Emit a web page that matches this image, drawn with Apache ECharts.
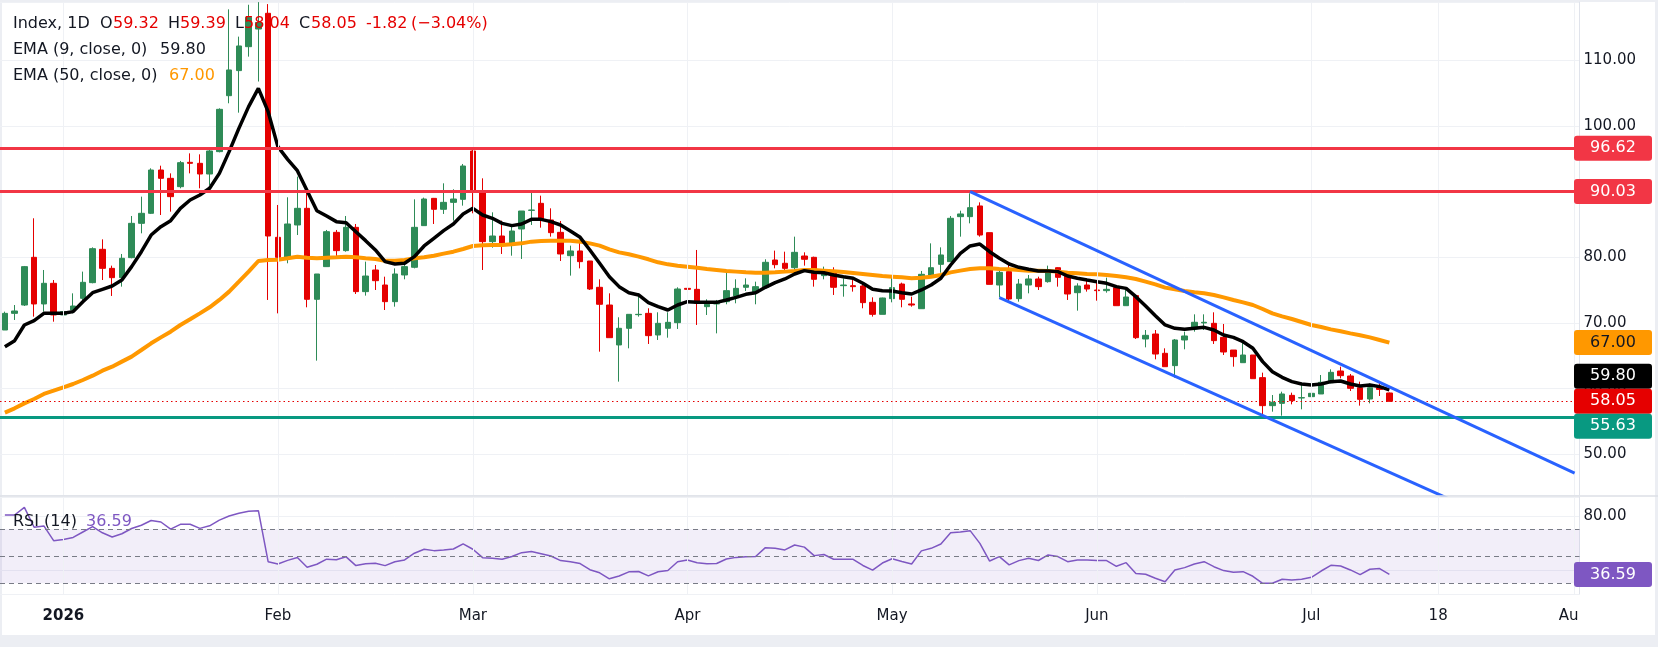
<!DOCTYPE html>
<html>
<head>
<meta charset="utf-8">
<title>Index, 1D</title>
<script src="https://cdn.jsdelivr.net/npm/echarts@6/dist/echarts.min.js"></script>
<style>
  html, body { margin: 0; padding: 0; background: #eceef3; }
  #frame { position: absolute; left: 2px; top: 2px; width: 1653px; height: 633px; background: #ffffff; }
  #chart { position: absolute; left: 0; top: 0; width: 1658px; height: 647px; }
</style>
</head>
<body>
<div id="frame"></div>
<div id="chart"></div>
<script>
// daily bars, weekdays only (Dec 25 and Good Friday closed); future part of the axis is calendar days
const FIRST_DAY = '2025-12-23';
const LAST_BAR_DAY = '2026-07-13';
const LAST_AXIS_DAY = '2026-08-01';
const HOLIDAYS = ['2025-12-25', '2026-04-03'];

const tickDates  = ['2026-01-01', '2026-02-02', '2026-03-02', '2026-04-01', '2026-05-01', '2026-06-01', '2026-07-01', '2026-07-18', '2026-08-01'];
const tickLabels = ['2026', 'Feb', 'Mar', 'Apr', 'May', 'Jun', 'Jul', '18', 'Au'];

const open = [68.92,71.46,72.73,80.00,72.89,76.04,71.21,71.97,73.75,76.14,
  81.22,78.32,76.90,79.95,85.18,86.71,93.31,92.04,90.77,94.48,
  94.33,92.70,96.11,104.64,108.46,112.11,114.80,117.20,83.05,80.00,
  84.93,87.47,73.60,78.58,83.81,81.02,84.57,74.77,78.07,75.78,
  73.24,77.31,78.48,84.83,88.99,87.32,88.38,88.84,96.21,90.16,
  82.39,83.25,81.88,84.32,87.16,88.23,85.69,83.81,80.25,80.97,
  79.44,75.43,72.73,66.64,69.18,71.26,71.46,68.16,69.18,70.04,
  75.27,75.12,72.48,72.89,73.24,74.11,75.43,74.61,75.43,79.59,
  79.09,78.42,80.20,80.00,77.21,77.92,75.68,75.68,75.63,73.14,
  71.31,73.70,75.93,72.89,72.17,77.31,78.93,79.34,86.20,86.20,
  87.83,83.76,75.78,77.82,73.70,75.78,76.70,76.29,78.42,77.21,
  74.61,75.78,75.02,74.92,75.38,72.63,74.16,67.55,68.31,65.37,
  63.49,67.40,69.08,70.00,69.94,67.80,65.87,63.94,65.11,61.66,
  57.39,57.74,58.96,58.56,58.76,59.17,60.89,62.67,61.91,60.13,
  58.40,60.10,59.32];

const high = [71.72,72.73,78.68,85.95,78.07,76.54,71.80,74.51,77.82,81.52,
  82.74,78.73,80.51,86.30,89.25,93.57,93.97,92.80,94.69,95.85,
  95.70,96.46,102.71,117.80,113.64,118.50,118.90,118.60,87.98,89.15,
  92.30,90.26,77.46,84.17,84.17,86.30,85.08,79.34,78.83,77.05,
  78.32,79.34,88.84,89.10,89.05,91.28,90.37,94.23,96.51,92.04,
  86.86,85.59,85.08,87.06,89.91,89.40,87.47,85.54,81.78,82.64,
  79.44,76.65,74.51,70.86,71.31,74.51,72.23,71.62,71.62,75.43,
  76.14,81.12,73.60,73.50,77.82,76.65,76.80,76.29,79.70,81.02,
  80.86,83.15,80.76,80.10,78.58,78.48,76.80,76.54,76.14,73.90,
  73.85,76.95,76.14,74.00,77.92,82.13,81.52,86.30,87.11,89.76,
  88.38,83.76,78.22,78.93,76.70,77.31,77.05,78.73,78.48,77.56,
  76.04,76.54,76.29,76.90,75.53,75.12,74.16,68.92,68.92,66.13,
  67.55,68.67,71.31,71.31,71.62,69.84,65.87,67.40,65.11,62.42,
  59.01,59.52,59.37,60.54,62.06,62.06,62.93,63.33,62.22,61.05,
  60.79,60.79,59.39];

const low = [68.92,70.45,72.58,70.96,71.72,70.19,71.10,71.46,73.24,76.04,
  76.54,74.11,75.53,79.85,83.66,86.60,86.45,86.96,90.52,92.80,
  90.52,91.03,96.00,103.48,102.05,110.59,106.80,73.50,71.46,79.09,
  83.40,72.38,64.25,78.58,80.10,80.86,74.41,74.16,75.02,71.97,
  72.48,76.65,78.32,84.78,85.08,86.61,85.59,87.88,86.71,78.07,
  81.47,80.51,80.25,79.75,84.93,84.52,83.15,79.44,77.21,78.32,
  75.02,65.62,67.75,61.05,66.13,70.96,66.79,67.40,67.75,69.08,
  73.85,69.69,71.21,68.41,72.84,72.99,74.87,72.84,75.27,78.32,
  77.97,78.07,78.73,75.53,76.65,74.26,74.00,74.77,72.23,70.96,
  71.31,73.14,72.38,72.48,72.17,77.05,77.66,79.34,83.15,85.18,
  83.15,75.88,73.90,73.24,73.24,74.51,75.02,76.14,75.53,73.50,
  71.87,74.77,73.39,74.61,72.63,72.63,67.55,66.28,64.45,63.33,
  61.66,65.98,68.67,68.92,66.79,65.11,63.33,63.94,61.50,55.71,
  56.47,55.86,57.59,56.83,57.34,59.17,60.79,61.55,59.62,57.39,
  57.74,58.86,58.04];

const close = [71.46,71.82,78.58,72.89,76.04,71.21,71.72,72.58,76.19,81.32,
  78.32,76.90,79.85,85.18,86.71,93.31,92.04,89.25,94.43,94.33,
  92.70,96.21,102.56,108.56,112.22,116.59,115.80,83.25,80.00,85.08,
  87.47,73.60,77.46,83.91,81.02,84.57,74.77,77.15,76.44,73.24,
  77.46,78.58,84.57,88.89,87.32,88.38,88.89,93.92,90.01,82.39,
  83.25,81.88,84.01,87.06,87.21,85.79,83.76,80.51,80.97,79.34,
  75.17,72.84,67.75,69.18,71.31,71.31,68.06,69.94,70.09,75.17,
  75.12,72.99,72.84,72.99,74.92,75.27,75.78,75.53,79.24,78.88,
  78.32,80.76,79.70,76.65,77.92,75.43,75.78,75.53,73.09,71.31,
  73.80,75.38,73.60,72.73,77.41,78.42,80.36,85.95,86.61,87.57,
  83.40,75.88,77.71,73.65,75.93,76.70,75.53,78.07,76.95,74.41,
  75.63,75.17,74.92,75.12,72.63,73.95,67.75,68.11,65.26,63.33,
  67.40,68.01,70.10,70.10,67.30,65.57,64.86,65.11,61.50,57.39,
  57.90,59.17,58.15,58.61,59.27,60.95,62.47,61.96,60.03,58.35,
  60.13,59.87,58.05];

const ema9 = [66.38,67.30,69.68,70.35,71.46,71.46,71.46,71.72,73.24,74.61,
  75.12,75.63,76.54,78.58,80.86,83.40,84.67,85.59,87.47,88.74,
  89.50,90.52,92.80,96.11,99.66,102.97,105.76,102.20,96.87,94.94,
  93.21,90.16,87.11,86.30,85.44,85.28,83.91,82.54,81.12,79.34,
  78.98,79.09,80.10,81.73,82.90,84.07,85.08,86.61,87.47,86.45,
  85.95,85.18,84.83,85.08,85.79,85.79,85.44,84.93,84.01,83.05,
  81.12,79.09,77.05,75.53,74.61,74.26,73.09,72.48,71.97,72.73,
  73.24,73.14,73.14,73.14,73.50,73.90,74.36,74.61,75.43,76.14,
  76.70,77.46,77.97,77.71,77.66,77.31,77.05,76.80,76.04,75.12,
  74.92,74.87,74.61,74.41,75.02,75.78,76.80,78.83,80.61,81.73,
  82.03,80.86,79.85,78.98,78.48,78.17,77.92,77.92,77.82,77.15,
  76.80,76.54,76.29,76.04,75.53,75.27,74.00,72.58,71.11,69.69,
  69.18,69.02,69.18,69.33,68.92,68.16,67.80,67.14,66.13,64.10,
  62.57,61.71,61.05,60.69,60.54,60.69,61.05,61.15,60.69,60.39,
  60.54,60.29,59.80];

const ema50 = [56.32,56.98,57.74,58.40,59.17,59.67,60.18,60.69,61.30,61.96,
  62.72,63.33,64.10,64.86,65.87,66.89,67.80,68.67,69.68,70.55,
  71.46,72.38,73.50,74.77,76.29,77.82,79.44,79.59,79.64,79.85,
  80.10,79.95,79.85,79.95,80.00,80.10,80.00,79.85,79.75,79.49,
  79.49,79.59,79.85,80.00,80.25,80.56,80.86,81.27,81.73,81.83,
  81.88,81.88,81.98,82.13,82.39,82.49,82.54,82.54,82.54,82.39,
  82.13,81.78,81.22,80.76,80.46,80.10,79.70,79.24,78.93,78.73,
  78.58,78.42,78.22,78.07,77.92,77.82,77.71,77.66,77.66,77.71,
  77.82,77.92,78.07,78.07,77.97,77.87,77.76,77.61,77.46,77.31,
  77.15,77.05,76.95,76.80,76.90,77.05,77.31,77.71,77.97,78.22,
  78.32,78.32,78.22,78.17,78.07,77.97,77.97,77.92,77.82,77.66,
  77.56,77.46,77.41,77.31,77.15,76.95,76.70,76.29,75.88,75.38,
  75.12,74.87,74.66,74.51,74.26,73.90,73.50,73.14,72.73,72.12,
  71.46,71.00,70.60,70.14,69.68,69.38,69.02,68.72,68.41,68.11,
  67.80,67.40,67.00];

const rsi14 = [80.6,80.6,86.3,71.5,72.5,61.6,62.5,64.0,68.0,72.0,
  67.4,64.3,66.7,70.6,73.0,76.5,75.4,70.1,73.7,73.7,
  70.7,72.6,76.8,79.9,81.9,83.4,83.8,46.0,44.3,47.0,
  49.1,41.9,44.1,47.9,47.4,49.6,43.1,44.4,44.8,43.1,
  46.0,47.3,52.3,55.2,54.2,54.7,55.4,59.2,55.2,49.0,
  48.5,47.8,49.9,52.7,53.5,51.9,50.2,46.8,46.0,44.6,
  40.1,37.8,33.3,35.4,38.5,38.7,35.5,38.6,39.5,46.0,
  47.3,45.2,44.4,44.7,48.0,49.2,49.7,49.8,56.4,55.9,
  54.7,58.4,56.8,50.5,51.3,47.8,47.8,47.8,43.2,39.8,
  45.0,48.2,46.2,44.3,54.0,55.9,59.1,67.5,68.0,69.0,
  59.6,46.5,49.8,43.6,46.8,48.5,46.9,51.0,49.8,46.0,
  47.3,47.3,46.8,46.8,42.6,45.3,37.2,36.7,33.7,31.2,
  39.9,41.6,44.3,46.0,42.3,39.4,38.1,38.6,35.2,30.0,
  30.0,33.0,32.5,33.0,34.4,39.1,43.3,42.8,39.9,36.4,
  40.4,40.9,36.59];

// horizontal levels and the descending channel (date, price)
const resistanceLevels = [96.62, 90.03];
const supportLevels = [55.63];
const channelUpper = [['2026-05-13', 90.00], ['2026-08-01', 47.10]];
const channelLower = [['2026-05-18', 73.85], ['2026-08-01', 34.60]];
const rsiBands = [70, 50, 30];

const FONT = "'DejaVu Sans', sans-serif";
const DARK = '#131722';
const UP = '#2e8b57';
const DOWN = '#e50000';

function isoDay(d) { return d.toISOString().slice(0, 10); }
function buildDates() {
  const out = [];
  const d = new Date(FIRST_DAY + 'T00:00:00Z');
  const end = new Date(LAST_AXIS_DAY + 'T00:00:00Z');
  while (d <= end) {
    const s = isoDay(d);
    const wd = d.getUTCDay();
    if (s > LAST_BAR_DAY || (wd !== 0 && wd !== 6 && HOLIDAYS.indexOf(s) < 0)) out.push(s);
    d.setUTCDate(d.getUTCDate() + 1);
  }
  return out;
}
const dates = buildDates();
const tickMap = {};
tickDates.forEach((d, i) => { tickMap[d] = tickLabels[i]; });
const lastTick = tickDates[tickDates.length - 1];

const candles = open.map((o, i) => [o, close[i], low[i], high[i]]);
const last = close.length - 1;

const vGrid = tickDates.map(d => ({ xAxis: d }));
const gridLineStyle = { color: '#eff1f5', width: 1, type: 'solid' };

const chart = echarts.init(document.getElementById('chart'), null, { renderer: 'canvas' });

function dateLabel(val) {
  if (val === tickDates[0]) return '{y|' + tickMap[val] + '}';
  if (val === lastTick) return '{e|' + tickMap[val] + '}'; // cut off by the price scale
  return tickMap[val];
}

const option = {
  animation: false,
  backgroundColor: 'transparent',
  textStyle: { fontFamily: FONT },
  grid: [
    { left: 0, right: 78.5, top: 2, height: 493, outerBoundsMode: 'none' },
    { left: 0, right: 78.5, top: 497, height: 97, outerBoundsMode: 'none' }
  ],
  xAxis: [
    {
      type: 'category', gridIndex: 0, data: dates, boundaryGap: true,
      axisLine: { show: false }, axisTick: { show: false }, axisLabel: { show: false }, splitLine: { show: false }
    },
    {
      type: 'category', gridIndex: 1, data: dates, boundaryGap: true,
      axisLine: { show: false }, axisTick: { show: false }, splitLine: { show: false },
      axisLabel: {
        show: true,
        interval: (idx, val) => tickMap[val] !== undefined,
        formatter: dateLabel,
        rich: {
          y: { fontWeight: 'bold', fontSize: 15, fontFamily: FONT, color: DARK },
          e: { fontSize: 15, fontFamily: FONT, color: DARK, padding: [0, 12, 0, 0] }
        },
        fontSize: 15, fontFamily: FONT, color: DARK, margin: 15
      }
    }
  ],
  yAxis: [
    {
      type: 'value', gridIndex: 0, position: 'right', min: 43.77, max: 118.92,
      minInterval: 10, maxInterval: 10, splitNumber: 7,
      axisLine: { show: true, lineStyle: { color: '#e0e3eb' } }, axisTick: { show: false },
      axisLabel: {
        formatter: v => (Math.abs(v / 10 - Math.round(v / 10)) < 1e-6 ? v.toFixed(2) : ''),
        fontSize: 15, fontFamily: FONT, color: DARK, margin: 4, align: 'left'
      },
      splitLine: { lineStyle: gridLineStyle }
    },
    {
      type: 'value', gridIndex: 1, position: 'right', min: 22.07, max: 93.93,
      minInterval: 40, maxInterval: 40, splitNumber: 2,
      axisLine: { show: true, lineStyle: { color: '#e0e3eb' } }, axisTick: { show: false },
      axisLabel: {
        formatter: v => (Math.abs(v / 40 - Math.round(v / 40)) < 1e-6 ? v.toFixed(2) : ''),
        fontSize: 15, fontFamily: FONT, color: DARK, margin: 4, align: 'left'
      },
      splitLine: { lineStyle: gridLineStyle }
    }
  ],
  series: [
    {
      name: 'levels', type: 'line', xAxisIndex: 0, yAxisIndex: 0, data: close,
      symbol: 'none', lineStyle: { opacity: 0 }, silent: true, z: 1,
      markLine: {
        symbol: 'none', silent: true, animation: false, label: { show: false },
        data: vGrid.map(v => Object.assign({ lineStyle: gridLineStyle }, v))
          .concat(resistanceLevels.map(v => ({ yAxis: v, lineStyle: { color: '#f23645', width: 3, type: 'solid' } })))
          .concat(supportLevels.map(v => ({ yAxis: v, lineStyle: { color: '#089981', width: 3, type: 'solid' } })))
          .concat([{ yAxis: close[last], lineStyle: { color: DOWN, width: 1, type: [1.5, 3] } }])
      }
    },
    {
      name: 'Index', type: 'candlestick', xAxisIndex: 0, yAxisIndex: 0, data: candles,
      barWidth: 6, z: 2,
      itemStyle: { color: UP, color0: DOWN, borderColor: UP, borderColor0: DOWN, borderWidth: 1 }
    },
    {
      name: 'EMA 50', type: 'line', xAxisIndex: 0, yAxisIndex: 0, data: ema50,
      symbol: 'none', smooth: false, z: 3, lineStyle: { color: '#ff9800', width: 4 }
    },
    {
      name: 'EMA 9', type: 'line', xAxisIndex: 0, yAxisIndex: 0, data: ema9,
      symbol: 'none', smooth: false, z: 4, lineStyle: { color: '#000000', width: 3.5 }
    },
    {
      name: 'channel top', type: 'line', xAxisIndex: 0, yAxisIndex: 0, data: channelUpper,
      symbol: 'none', z: 5, clip: true, lineStyle: { color: '#2962ff', width: 3 }
    },
    {
      name: 'channel bottom', type: 'line', xAxisIndex: 0, yAxisIndex: 0, data: channelLower,
      symbol: 'none', z: 5, clip: true, lineStyle: { color: '#2962ff', width: 3 }
    },
    {
      name: 'RSI', type: 'line', xAxisIndex: 1, yAxisIndex: 1, data: rsi14,
      symbol: 'none', z: 3, lineStyle: { color: '#7e57c2', width: 1.5 },
      markArea: {
        silent: true, itemStyle: { color: 'rgba(126, 87, 194, 0.1)' },
        data: [[{ yAxis: rsiBands[2] }, { yAxis: rsiBands[0] }]]
      },
      markLine: {
        symbol: 'none', silent: true, animation: false, label: { show: false },
        data: vGrid.map(v => Object.assign({ lineStyle: gridLineStyle }, v))
          .concat(rsiBands.map(v => ({ yAxis: v, lineStyle: { color: '#787b86', width: 1, type: [5, 4] } })))
      }
    }
  ]
};

chart.setOption(option);

// right-hand value tags
const priceTags = [
  { value: resistanceLevels[0], bg: '#f23645', fg: '#ffffff' },
  { value: resistanceLevels[1], bg: '#f23645', fg: '#ffffff' },
  { value: ema50[last], bg: '#ff9800', fg: DARK },
  { value: ema9[last], bg: '#000000', fg: '#ffffff' },
  { value: close[last], bg: DOWN, fg: '#ffffff', anchor: true },
  { value: supportLevels[0], bg: '#089981', fg: '#ffffff' }
];

function tagGraphic(t, y) {
  return [
    { type: 'rect', z: 60, shape: { x: 1574, y: y - 12.5, width: 78, height: 25, r: 3 }, style: { fill: t.bg } },
    { type: 'text', z: 61, x: 1613, y: y,
      style: { text: t.value.toFixed(2), fill: t.fg, fontSize: 16, fontFamily: FONT,
        align: 'center', verticalAlign: 'middle', textAlign: 'center', textVerticalAlign: 'middle' } }
  ];
}

function legendText(text, x, y, color) {
  return { type: 'text', z: 70, x: x, y: y,
    style: { text: text, fill: color, fontSize: 16, fontFamily: FONT,
      align: 'left', verticalAlign: 'middle', textAlign: 'left', textVerticalAlign: 'middle' } };
}

const H = 25;
const tags = priceTags.map(t => Object.assign({}, t, { y: chart.convertToPixel({ yAxisIndex: 0 }, t.value) }));
tags.sort((a, b) => a.y - b.y);
const k = tags.findIndex(t => t.anchor);
for (let i = k - 1; i >= 0; i--) tags[i].y = Math.min(tags[i].y, tags[i + 1].y - H);
for (let i = k + 1; i < tags.length; i++) tags[i].y = Math.max(tags[i].y, tags[i - 1].y + H);

let graphics = [];
tags.forEach(t => { graphics = graphics.concat(tagGraphic(t, t.y)); });
graphics = graphics.concat(tagGraphic({ value: rsi14[last], bg: '#7e57c2', fg: '#ffffff' },
  chart.convertToPixel({ yAxisIndex: 1 }, rsi14[last])));

// pane separator
graphics.push({ type: 'line', z: 40, shape: { x1: 0, y1: 496, x2: 1658, y2: 496 }, style: { stroke: '#dcdfe6', lineWidth: 1.5 } });

// legends
const chg = close[last] - close[last - 1];
const pct = chg / close[last - 1] * 100;
graphics.push(
  legendText('Index, 1D', 13, 24, DARK),
  legendText('O', 100, 24, DARK), legendText(open[last].toFixed(2), 113, 24, DOWN),
  legendText('H', 168, 24, DARK), legendText(high[last].toFixed(2), 180, 24, DOWN),
  legendText('L', 235, 24, DARK), legendText(low[last].toFixed(2), 244, 24, DOWN),
  legendText('C', 299, 24, DARK), legendText(close[last].toFixed(2), 311, 24, DOWN),
  legendText(chg.toFixed(2), 366, 24, DOWN),
  legendText('(\u2212' + Math.abs(pct).toFixed(2) + '%)', 411, 24, DOWN),
  legendText('EMA (9, close, 0)', 13, 50, DARK), legendText(ema9[last].toFixed(2), 160, 50, DARK),
  legendText('EMA (50, close, 0)', 13, 76, DARK), legendText(ema50[last].toFixed(2), 169, 76, '#ff9800'),
  legendText('RSI (14)', 13, 522, DARK), legendText(rsi14[last].toFixed(2), 86, 522, '#7e57c2')
);

chart.setOption({ graphic: graphics });
</script>
</body>
</html>
